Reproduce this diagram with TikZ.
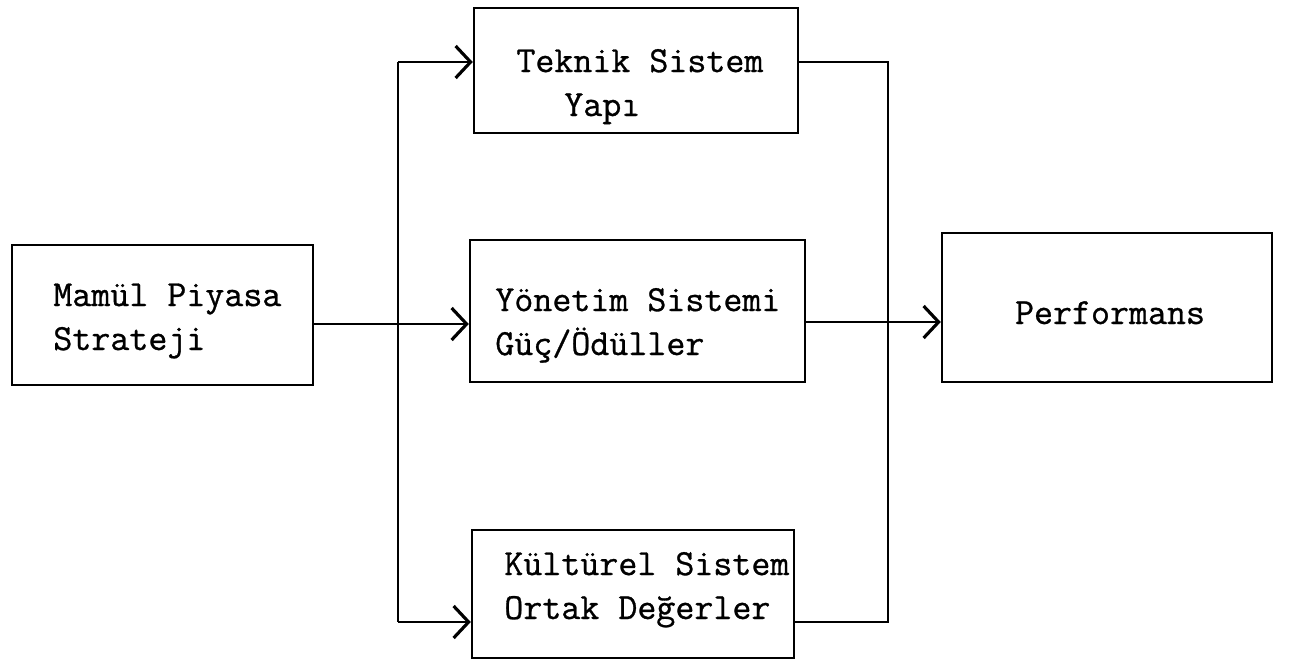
\documentclass[tikz,border=0pt]{standalone}
\usepackage{fontspec}
\newfontfamily\twfont[FakeBold=0.8]{Latin Modern Mono}
\usetikzlibrary{arrows.meta,fit}
\tikzset{
  box/.style={draw, line width=1.4pt, inner sep=0pt},
  txt/.style={inner sep=0pt, align=left, anchor=base west,
    font=\fontsize{21}{25}\selectfont\twfont},
  conn/.style={line width=1pt},
  arr/.style={conn, -{Straight Barb[length=0.3cm,width=0.64cm,line width=1.8pt]}}
}
\begin{document}
\begin{tikzpicture}[x=0.02cm,y=-0.02cm]
\useasboundingbox (0,0) rectangle (1301,663);
% boxes
\node[box, fit={(12,245) (313,385)}] (mam) {};
\node[box, fit={(474,8) (798,133)}] (tek) {};
\node[box, fit={(470,240) (805,382)}] (yon) {};
\node[box, fit={(472,530) (794,658)}] (kul) {};
\node[box, fit={(942,233) (1272,382)}] (per) {};
% texts (base = baseline of the last line)
\node[txt] (mamT) at (53,350) {Mamül Piyasa\\Strateji};
\node[txt] (tekT) at (516,116) {Teknik Sistem\\\hspace*{1.3em}Yapı};
\node[txt] (yonT) at (495,355) {Yönetim Sistemi\\Güç/Ödüller};
\node[txt] (kulT) at (504,619) {Kültürel Sistem\\Ortak Değerler};
\node[txt, anchor=base] (perT) at (1110,324) {Performans};
% junction coordinates
\coordinate (lt) at (398,62);
\coordinate (lb) at (398,622);
\coordinate (rt) at (888,62);
\coordinate (rb) at (888,622);
\coordinate (ym) at (0,324);
\coordinate (yp) at (0,322);
% connectors
\draw[conn] (lt) -- (lb);
\draw[arr] (lt) -- (lt -| tek.west);
\draw[arr] (lb) -- (lb -| kul.west);
\draw[arr] (mam.east |- ym) -- (yon.west |- ym);
\draw[conn] (tek.east |- rt) -- (rt) -- (rb) -- (kul.east |- rb);
\draw[arr] (yon.east |- yp) -- (per.west |- yp);
\end{tikzpicture}
\end{document}
